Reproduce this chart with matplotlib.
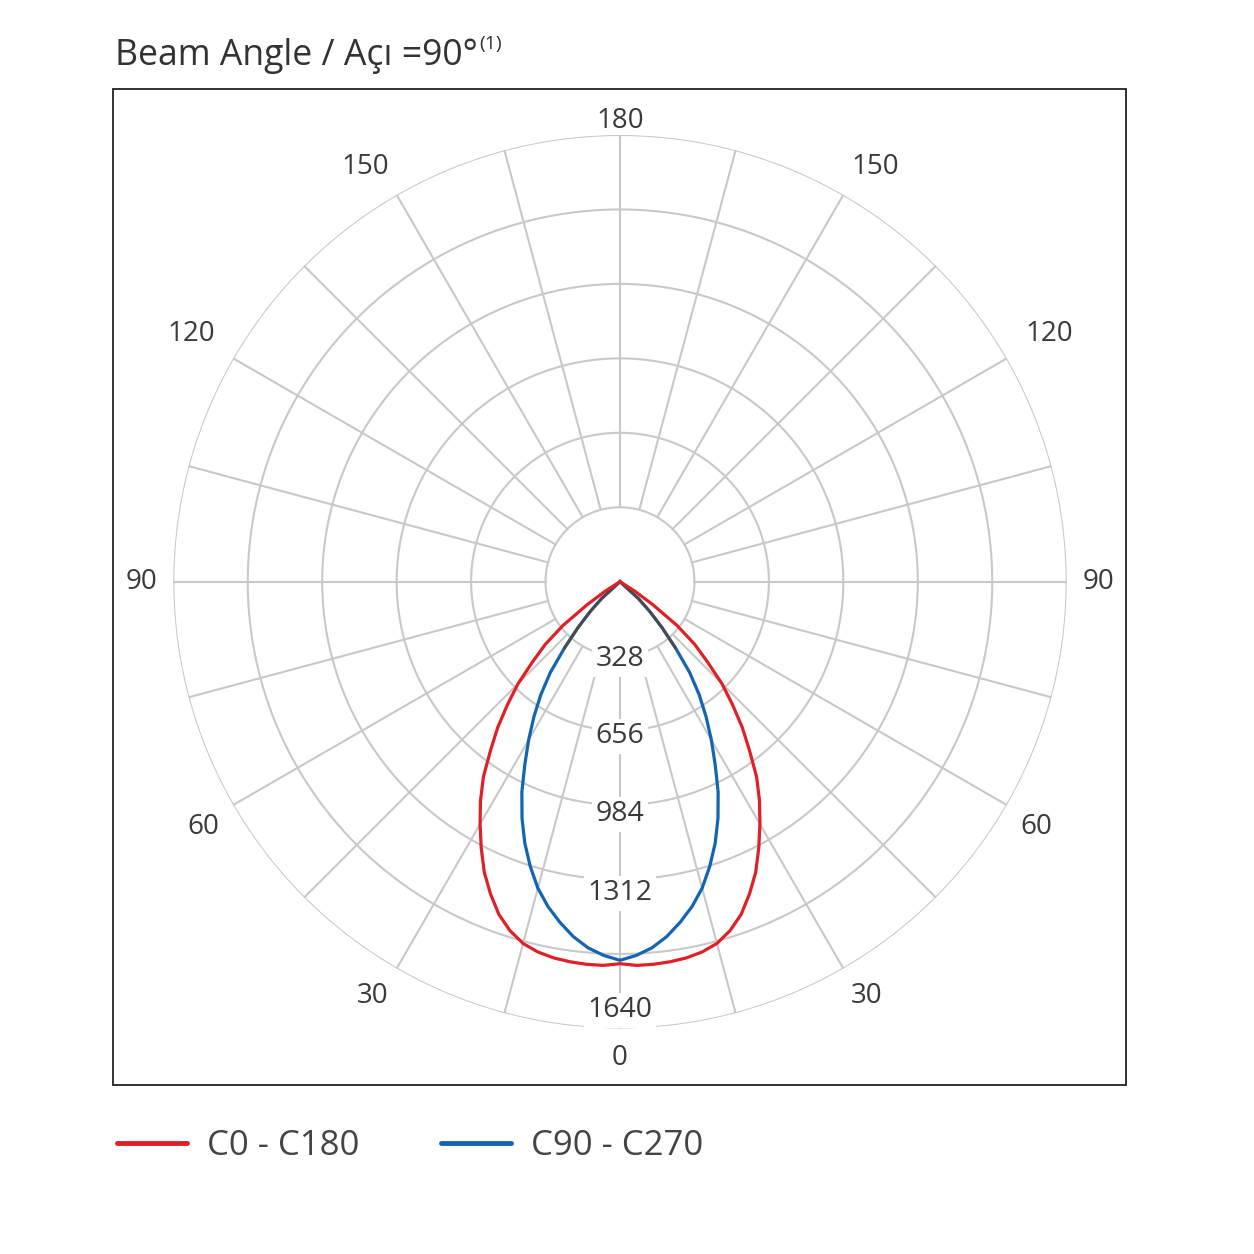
import matplotlib

matplotlib.use("Agg")
import matplotlib.pyplot as plt
import numpy as np
from matplotlib import font_manager
from matplotlib.patches import Rectangle

# C0 - C180 plane: gamma angle (deg) and luminous intensity (cd)
red_angles = [0, 2.5, 5, 7.5, 10, 12.5, 15, 17.5, 20, 22.5, 25, 27.5, 30, 32.5, 35,
              37.5, 40, 42.5, 45, 47.5, 50, 52.5, 55, 57.5, 60]
red_values = [1683, 1692, 1692, 1689, 1683, 1671, 1650, 1612, 1560, 1490, 1414, 1324, 1233, 1144, 1049,
              937, 838, 733, 635, 522, 430, 317, 176, 75, 0]

# C90 - C270 plane
blue_angles = [0, 2.5, 5, 7.5, 10, 12.5, 15, 17.5, 20, 22.5, 25, 27.5, 30, 32.5, 35,
               37.5, 40, 42.5, 45, 47.5, 50]
blue_values = [1668, 1648, 1619, 1577, 1524, 1466, 1398, 1315, 1226, 1128, 1023, 908, 805, 706, 609,
               504, 379, 273, 185, 110, 0]

ring_values = [328, 656, 984, 1312, 1640]
ring_step = 328
n_rings = 6
angle_labels = [0, 30, 60, 90, 120, 150, 180]

series_labels = ["C0 - C180", "C90 - C270"]
title_text = "Beam Angle / Açı =90°"
title_note = "(1)"

# layout: where the value labels sit along the 0° axis (data units)
value_label_r = [341, 681, 1024, 1372, 1888]

W = H = 1254
names = {f.name for f in font_manager.fontManager.ttflist}
main_font = "Open Sans" if "Open Sans" in names else "DejaVu Sans"
plt.rcParams["font.family"] = [main_font, "DejaVu Sans"]

text_color = "#3a3a3a"
grid_color = "#c8c8c8"
red = "#e01f26"
blue = "#1464b4"

fig = plt.figure(figsize=(W / 100, H / 100), dpi=100)
fig.patch.set_facecolor("white")

# frame
fig.add_artist(
    Rectangle(
        (113 / W, 1 - 1085 / H),
        (1126 - 113) / W,
        (1085 - 89) / H,
        transform=fig.transFigure,
        fill=False,
        lw=1.3,
        ec="#222222",
    )
)

cx, cy, rad = 620, 581.7, 446.7
ax = fig.add_axes([(cx - rad) / W, 1 - (cy + rad) / H, 2 * rad / W, 2 * rad / H], projection="polar")
ax.set_theta_zero_location("S")
ax.set_theta_direction(1)
rmax = ring_step * n_rings
ax.set_rlim(0, rmax)
ax.grid(False)
ax.set_xticks([])
ax.set_yticks([])
ax.spines["polar"].set_visible(False)
ax.patch.set_alpha(0)

# grid: rings and spokes outside the hole
t = np.linspace(0, 2 * np.pi, 721)
for k in range(1, n_rings + 1):
    ax.plot(t, np.full_like(t, k * ring_step), color=grid_color, lw=1.5, zorder=1)
for a in range(0, 360, 15):
    th = np.deg2rad(a)
    ax.plot([th, th], [ring_step, rmax], color=grid_color, lw=1.5, zorder=1)


def mirrored(angles, values):
    g = np.deg2rad(np.asarray(angles, dtype=float))
    v = np.asarray(values, dtype=float)
    return np.concatenate([-g[::-1], g]), np.concatenate([v[::-1], v])


bt, bv = mirrored(blue_angles, blue_values)
ax.plot(bt, bv, color=blue, lw=2.3, zorder=3, label=series_labels[1], solid_joinstyle="round")
# the blue trace turns dark grey near the apex
tip = np.array(blue_angles) >= 40
gt, gv = mirrored(np.array(blue_angles)[tip], np.array(blue_values)[tip])
half = len(gt) // 2
ax.plot(gt[:half], gv[:half], color="#4a4a4a", lw=2.0, zorder=3.5)
ax.plot(gt[half:], gv[half:], color="#4a4a4a", lw=2.0, zorder=3.5)

rt, rv = mirrored(red_angles, red_values)
ax.plot(rt, rv, color=red, lw=2.3, zorder=4, label=series_labels[0], solid_joinstyle="round")

# radial value labels
for val, r in zip(ring_values, value_label_r):
    ax.text(
        0, r, str(val), ha="center", va="center", fontsize=20.5, color=text_color, zorder=5,
        bbox={"boxstyle": "square,pad=0.12", "fc": "white", "ec": "none"},
    )

# angle labels around the circle
lab_r = rmax * 1.035
for a in angle_labels:
    sides = [a] if a in (0, 180) else [a, -a]
    for s in sides:
        r = lab_r
        if a in (0, 180):
            ha = "center"
        else:
            ha = "left" if s > 0 else "right"
        if a == 90:
            va = "center"
        elif a < 90:
            va = "top"
        else:
            va = "bottom"
        if a == 180:
            r = rmax
        elif a == 120:
            r = lab_r * 1.012
        ax.text(np.deg2rad(s), r, str(a), ha=ha, va=va, fontsize=20, color=text_color)

# title with superscript note
title = fig.text(115 / W, 1 - 65 / H, title_text, fontsize=25.7, color="#333333", va="baseline")
fig.canvas.draw()
bb = title.get_window_extent()
fig.text((bb.x1 + 2) / W, 1 - 49 / H, title_note, fontsize=14, color="#333333", va="baseline")

# legend below the frame
handles, labels = ax.get_legend_handles_labels()
order = [labels.index(s) for s in series_labels]
leg = fig.legend(
    [handles[i] for i in order],
    [labels[i] for i in order],
    loc="center left",
    bbox_to_anchor=(117 / W, 1 - 1146 / H),
    ncol=2,
    frameon=False,
    borderpad=0,
    borderaxespad=0,
    handlelength=2.02,
    handletextpad=0.58,
    columnspacing=2.34,
    prop={"size": 25},
)
for line in leg.get_lines():
    line.set_linewidth(3.5)
    line.set_solid_capstyle("round")
for txt in leg.get_texts():
    txt.set_color("#444444")

fig.savefig("out.png", dpi=100, facecolor="white")
